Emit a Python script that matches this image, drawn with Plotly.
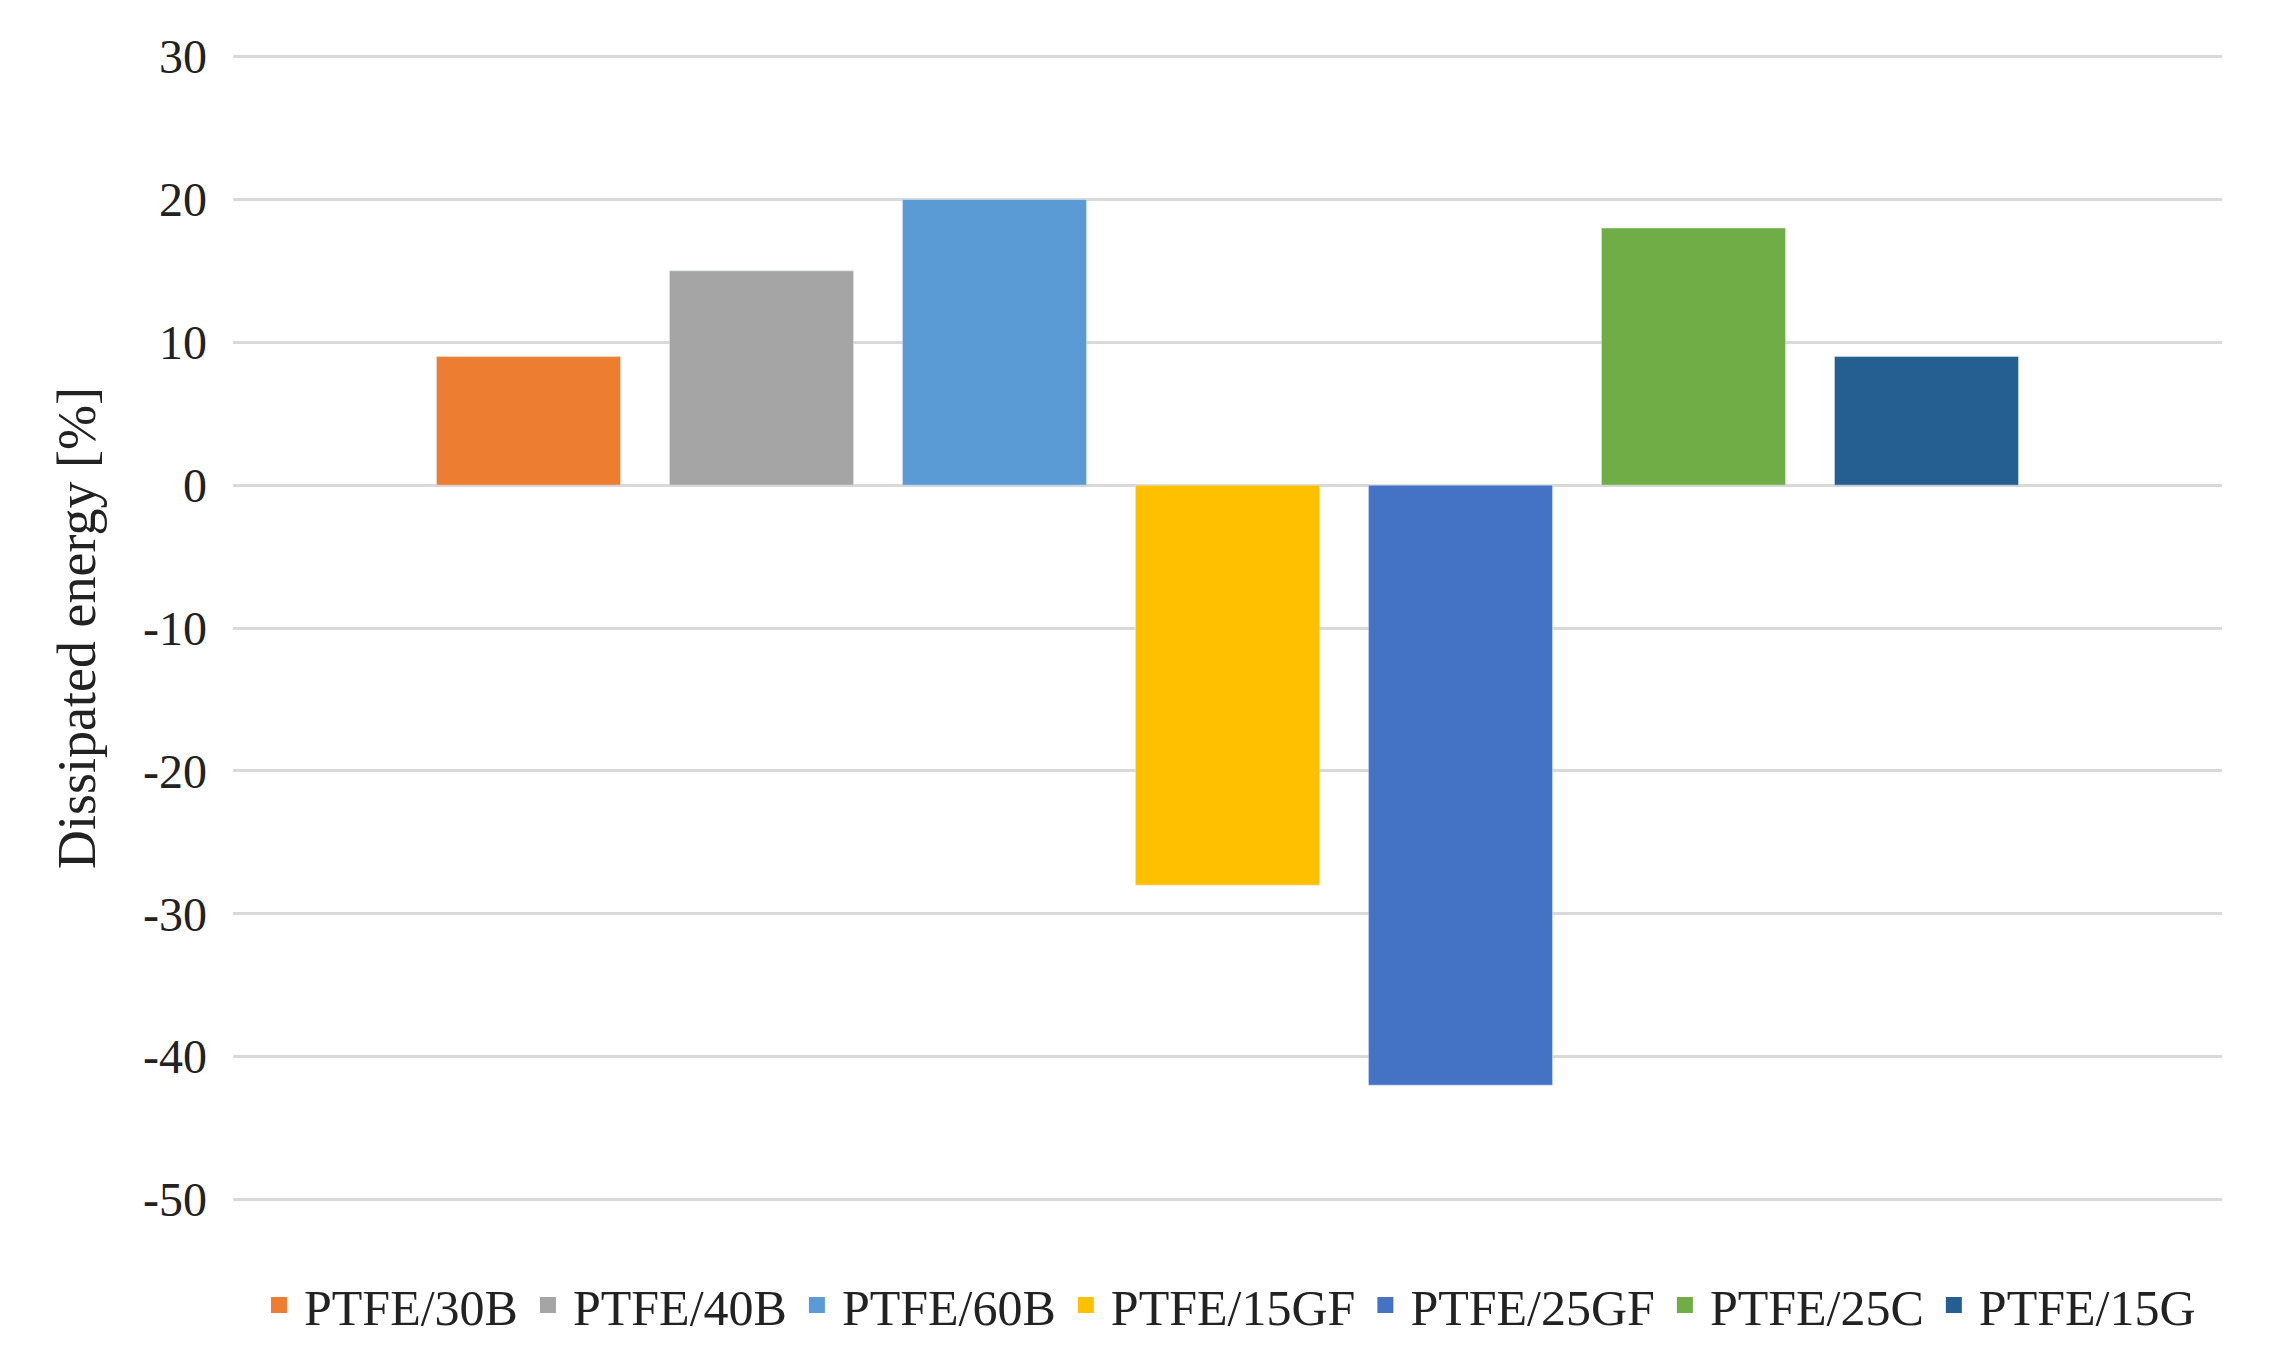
import plotly.graph_objects as go

series = ["PTFE/30B", "PTFE/40B", "PTFE/60B", "PTFE/15GF", "PTFE/25GF", "PTFE/25C", "PTFE/15G"]
values = [9, 15, 20, -28, -42, 18, 9]
colors = ["#ED7D31", "#A5A5A5", "#5B9BD5", "#FFC000", "#4472C4", "#70AD47", "#255E91"]
ticks = [30, 20, 10, 0, -10, -20, -30, -40, -50]

fig = go.Figure()
for name, val, col in zip(series, values, colors):
    fig.add_trace(go.Bar(x=[""], y=[val], name=name, marker_color=col, showlegend=False))
# legend entries with bigger square swatches
for name, col in zip(series, colors):
    fig.add_trace(go.Scatter(x=[None], y=[None], mode="markers", name=name,
                             marker=dict(symbol="square", size=30, color=col)))

fig.update_layout(
    width=2280, height=1350,
    plot_bgcolor="white", paper_bgcolor="white",
    font=dict(family="Liberation Serif, DejaVu Serif, serif", size=48, color="#222"),
    barmode="group", bargap=0.18, bargroupgap=0.21,
    margin=dict(l=225, r=66, t=40, b=150),
    legend=dict(orientation="h", x=0.5, xanchor="center", y=-0.05, yanchor="top",
                font=dict(size=50), itemwidth=40, tracegroupgap=0),
)
fig.update_xaxes(showticklabels=False, showline=False)
fig.update_yaxes(range=[-50.6, 30.6], tickvals=ticks, ticktext=[str(t) for t in ticks],
                 gridcolor="#D9D9D9", gridwidth=3,
                 zeroline=True, zerolinecolor="#D9D9D9", zerolinewidth=3,
                 title=dict(text="Dissipated energy [%]", font=dict(size=54), standoff=30),
                 ticks="", ticklabelstandoff=25)

fig.write_html("out.html")
